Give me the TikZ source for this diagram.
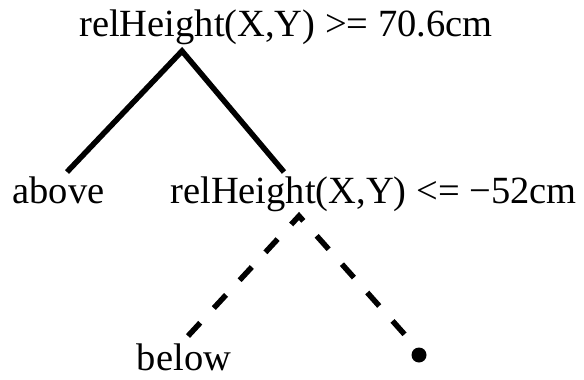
\documentclass[tikz,border=0pt]{standalone}
\usepackage{fontspec}
\setmainfont{Liberation Serif}
\begin{document}
\begin{tikzpicture}[x=1pt,y=-1pt,
  lbl/.style={anchor=base,inner sep=0pt,font=\fontsize{38.5}{46}\selectfont},
  edge/.style={line width=5.5pt,line join=miter,line cap=butt},
  dashedge/.style={edge,dash pattern=on 18pt off 20pt},
  leaf/.style={circle,fill=black,inner sep=0pt,minimum size=15pt}]
\useasboundingbox (0,0) rectangle (584,380);
\node[lbl] (root) at (286,36) {relHeight(X,Y) >= 70.6cm};
\node[lbl] (above) at (58.5,203) {above};
\node[lbl] (inner) at (373.5,203) {relHeight(X,Y) <= −52cm};
\node[lbl] (below) at (184,370) {below};
\node[leaf] (dot) at (419,355) {};
\coordinate (rootapex) at (182,51);
\coordinate (aboveend) at (67,172);
\coordinate (innerend) at (284,172);
\coordinate (innerapex) at (299,216);
\coordinate (belowend) at (188,336);
\coordinate (dotend) at (406,336);
\draw[edge] (aboveend) -- (rootapex) -- (innerend);
\draw[dashedge] (belowend) -- (innerapex) -- (dotend);
\end{tikzpicture}
\end{document}
